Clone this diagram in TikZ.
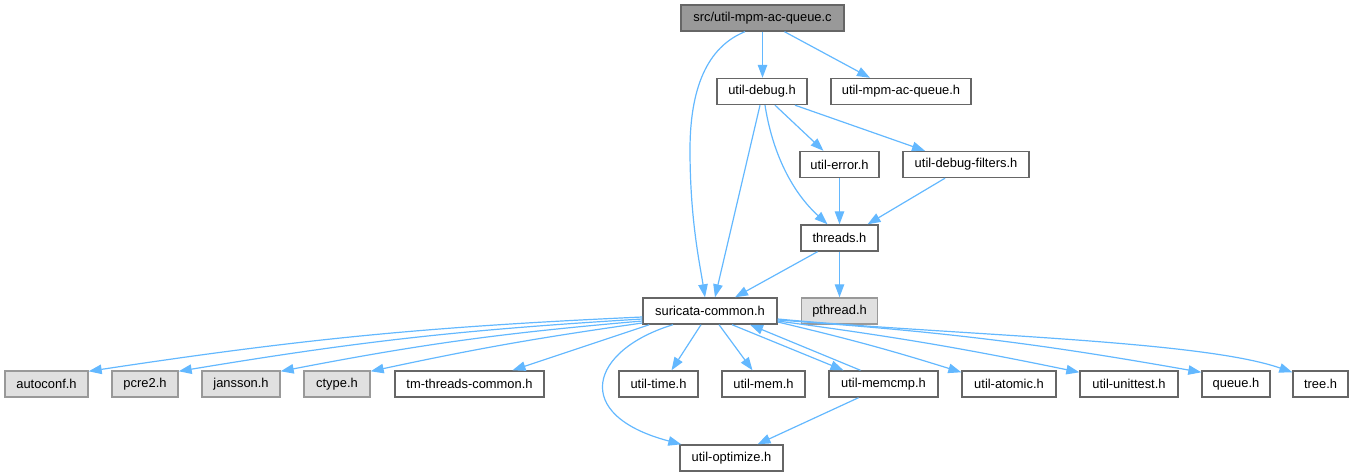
\documentclass[tikz,border=0pt]{standalone}
\usepackage{fontspec}
\setmainfont{Liberation Sans}
\usetikzlibrary{arrows.meta}
\definecolor{bordA}{HTML}{666666}
\definecolor{bordB}{HTML}{999999}
\definecolor{rootfill}{HTML}{999999}
\definecolor{extfill}{HTML}{E0E0E0}
\definecolor{eblue}{HTML}{63B8FF}
\begin{document}
\begin{tikzpicture}[x=1pt,y=-1pt,
  box/.style={draw=bordA, fill=white, line width=1.4pt, minimum height=26pt, inner sep=0pt,
    font=\fontsize{12.9}{15}\selectfont, anchor=center},
  gbox/.style={box, draw=bordB, fill=extfill},
  rootbox/.style={box, fill=rootfill},
  edge/.style={draw=eblue, line width=1.2pt, -{Triangle[length=13pt,width=9.5pt]}}]
\useasboundingbox (0,0) rectangle (1354,476);

% nodes
\node[rootbox, minimum width=163pt] (src) at (762.5,18) {src/util-mpm-ac-queue.c};
\node[box, minimum width=90pt] (dbg) at (762,91.5) {util-debug.h};
\node[box, minimum width=140pt] (mpmh) at (901,91.5) {util-mpm-ac-queue.h};
\node[box, minimum width=79pt] (err) at (839.5,164.5) {util-error.h};
\node[box, minimum width=126pt] (dflt) at (966,164.5) {util-debug-filters.h};
\node[box, minimum width=77pt] (thr) at (839.5,238) {threads.h};
\node[box, minimum width=134pt] (sc) at (710,311) {suricata-common.h};
\node[gbox, minimum width=76pt] (pth) at (839.5,311) {pthread.h};

\node[gbox, minimum width=83pt] (autoconf) at (46.5,384) {autoconf.h};
\node[gbox, minimum width=66pt] (pcre) at (145,384) {pcre2.h};
\node[gbox, minimum width=78pt] (jansson) at (241,384) {jansson.h};
\node[gbox, minimum width=66pt] (ctype) at (337,384) {ctype.h};
\node[box, minimum width=149pt] (tmtc) at (469.5,384) {tm-threads-common.h};
\node[box, minimum width=79pt] (utime) at (658.5,384) {util-time.h};
\node[box, minimum width=83pt] (umem) at (763.5,384) {util-mem.h};
\node[box, minimum width=109pt] (umemcmp) at (883.5,384) {util-memcmp.h};
\node[box, minimum width=94pt] (uatomic) at (1009,384) {util-atomic.h};
\node[box, minimum width=98pt] (uunit) at (1129,384) {util-unittest.h};
\node[box, minimum width=68pt] (queue) at (1236,384) {queue.h};
\node[box, minimum width=55pt] (tree) at (1320.5,384) {tree.h};
\node[box, minimum width=103pt] (uopt) at (731.5,458) {util-optimize.h};

% edges
\draw[edge] (src.south) -- (src.south |- dbg.north);
\draw[edge] ([xshift=22pt]src.south) -- ([xshift=-31pt]mpmh.north);
\draw[edge] ([xshift=-17.5pt]src.south) .. controls (712,45) and (690,80) .. (690,150)
   .. controls (690,220) and (700,265) .. ([xshift=-5pt]sc.north);
\draw[edge] ([xshift=-2pt]dbg.south) -- ([xshift=5pt]sc.north);
\draw[edge] ([xshift=3pt]dbg.south) .. controls (772,150) and (790,190) .. ([xshift=-12pt]thr.north);
\draw[edge] ([xshift=13pt]dbg.south) -- ([xshift=-16pt]err.north);
\draw[edge] ([xshift=33pt]dbg.south) -- ([xshift=-41pt]dflt.north);
\draw[edge] (err.south) -- (thr.north);
\draw[edge] ([xshift=-21pt]dflt.south) -- ([xshift=28pt]thr.north);
\draw[edge] ([xshift=-22pt]thr.south) -- ([xshift=25pt]sc.north);
\draw[edge] (thr.south) -- (pth.north);

\draw[edge] ([yshift=-6pt]sc.west) to[bend right=3] ([yshift=-1pt]autoconf.north east);
\draw[edge] ([yshift=-8pt]sc.west) to[bend right=3] ([yshift=-1pt]pcre.north east);
\draw[edge] ([yshift=-10pt]sc.west) to[bend right=3] ([yshift=-1pt]jansson.north east);
\draw[edge] ([yshift=-12pt]sc.west) to[bend right=2] ([yshift=-1pt]ctype.north east);
\draw[edge] ([xshift=7pt]sc.south west) -- ([xshift=43pt]tmtc.north);

\draw[edge] ([xshift=-9pt]sc.south) -- ([xshift=13pt]utime.north);
\draw[edge] ([xshift=9pt]sc.south) -- ([xshift=-11pt]umem.north);
\draw[edge] ([xshift=22pt]sc.south) -- ([xshift=-40pt]umemcmp.north);
\draw[edge] ([xshift=-23pt]umemcmp.north) -- ([xshift=40pt]sc.south);
\draw[edge] ([xshift=-37pt]sc.south) .. controls (590,350) and (570,415) .. ([xshift=2pt]uopt.north west);
\draw[edge] ([xshift=-25pt]umemcmp.south) -- ([xshift=26pt]uopt.north);

\draw[edge] ([yshift=-11pt]sc.east) to[bend left=2] ([yshift=-2pt]uatomic.north west);
\draw[edge] ([yshift=-10pt]sc.east) to[bend left=2] ([yshift=-2pt]uunit.north west);
\draw[edge] ([yshift=-9pt]sc.east) to[bend left=3] ([yshift=-2pt]queue.north west);
\draw[edge] ([yshift=-8pt]sc.east) .. controls (950,335) and (1200,340) .. ([yshift=-2pt]tree.north west);
\end{tikzpicture}
\end{document}
